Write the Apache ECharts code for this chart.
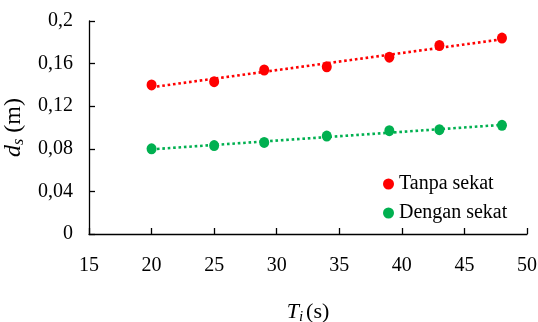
<!DOCTYPE html>
<html><head><meta charset="utf-8">
<script src="https://cdn.jsdelivr.net/npm/echarts@6/dist/echarts.min.js"></script>
<style>html,body{margin:0;padding:0;background:#fff}#c{width:538px;height:322px}</style>
</head><body><div id="c"></div>
<script>
var timeValues = [20, 25, 29, 34, 39, 43, 48];
var tanpaSekat = [0.140, 0.143, 0.154, 0.157, 0.166, 0.177, 0.184];
var denganSekat = [0.080, 0.083, 0.086, 0.092, 0.097, 0.098, 0.102];
var trendX = [20, 48];
var tanpaTrend = [0.1378, 0.1828];
var denganTrend = [0.0795, 0.1025];
var seriesNames = ['Tanpa sekat', 'Dengan sekat'];
var xTicks = {min: 15, max: 50, interval: 5};
var yTicks = {min: 0, max: 0.2, interval: 0.04};

function pairs(xs, ys){ return xs.map(function(x,i){ return [x, ys[i]]; }); }
var font = "'Liberation Serif', 'Times New Roman', serif";
var chart = echarts.init(document.getElementById('c'), null, {renderer:'canvas'});
chart.setOption({
  animation: false,
  backgroundColor: '#fff',
  grid: {left: 89, right: 11, top: 21, bottom: 88, containLabel: false, outerBoundsMode: 'none'},
  legend: {
    data: seriesNames, orient: 'vertical', left: 378, top: 169,
    icon: 'circle', itemWidth: 11, itemHeight: 11, itemGap: 9,
    textStyle: {fontFamily: font, fontSize: 20, color: '#000', lineHeight: 20}
  },
  xAxis: {
    type: 'value', min: xTicks.min, max: xTicks.max, interval: xTicks.interval,
    axisLine: {lineStyle: {color: '#000', width: 1.3}},
    axisTick: {show: true, inside: true, length: 6, lineStyle: {color: '#000', width: 1.3}},
    axisLabel: {fontFamily: font, fontSize: 20, color: '#000', margin: 22},
    splitLine: {show: false},
    name: '{it|T}{sub|i}{n|(s)}', nameLocation: 'middle', nameGap: 66,
    nameTextStyle: {rich: {
      it: {fontFamily: font, fontStyle: 'italic', fontSize: 22, color: '#000'},
      sub: {fontFamily: font, fontStyle: 'italic', fontSize: 15, color: '#000', verticalAlign: 'bottom', padding: [10,3,0,0]},
      n: {fontFamily: font, fontSize: 22, color: '#000'}
    }}
  },
  yAxis: {
    type: 'value', min: yTicks.min, max: yTicks.max, interval: yTicks.interval,
    axisLine: {show: true, lineStyle: {color: '#000', width: 1.3}},
    axisTick: {show: true, inside: true, length: 6, lineStyle: {color: '#000', width: 1.3}},
    axisLabel: {fontFamily: font, fontSize: 20, color: '#000', margin: 16,
      formatter: function(v){ return String(+v.toFixed(2)).replace('.', ','); }},
    splitLine: {show: false},
    name: '{it|d}{sub|s}{n| (m)}', nameLocation: 'middle', nameGap: 58,
    nameTextStyle: {rich: {
      it: {fontFamily: font, fontStyle: 'italic', fontSize: 24, color: '#000'},
      sub: {fontFamily: font, fontStyle: 'italic', fontSize: 16, color: '#000', verticalAlign: 'bottom', padding: [10,0,0,0]},
      n: {fontFamily: font, fontSize: 24, color: '#000'}
    }}
  },
  series: [
    {type: 'line', data: pairs(trendX, tanpaTrend), showSymbol: false, symbol: 'none', silent: true,
     lineStyle: {color: '#FF0000', width: 2.6, type: [2.6, 2.8]}, z: 1},
    {type: 'line', data: pairs(trendX, denganTrend), showSymbol: false, symbol: 'none', silent: true,
     lineStyle: {color: '#00B050', width: 2.6, type: [2.6, 2.8]}, z: 1},
    {name: seriesNames[0], type: 'scatter', data: pairs(timeValues, tanpaSekat), symbol: 'circle', symbolSize: [10, 11],
     itemStyle: {color: '#FF0000', opacity: 1}, z: 2},
    {name: seriesNames[1], type: 'scatter', data: pairs(timeValues, denganSekat), symbol: 'circle', symbolSize: [10, 11],
     itemStyle: {color: '#00B050', opacity: 1}, z: 2}
  ]
});
</script></body></html>
